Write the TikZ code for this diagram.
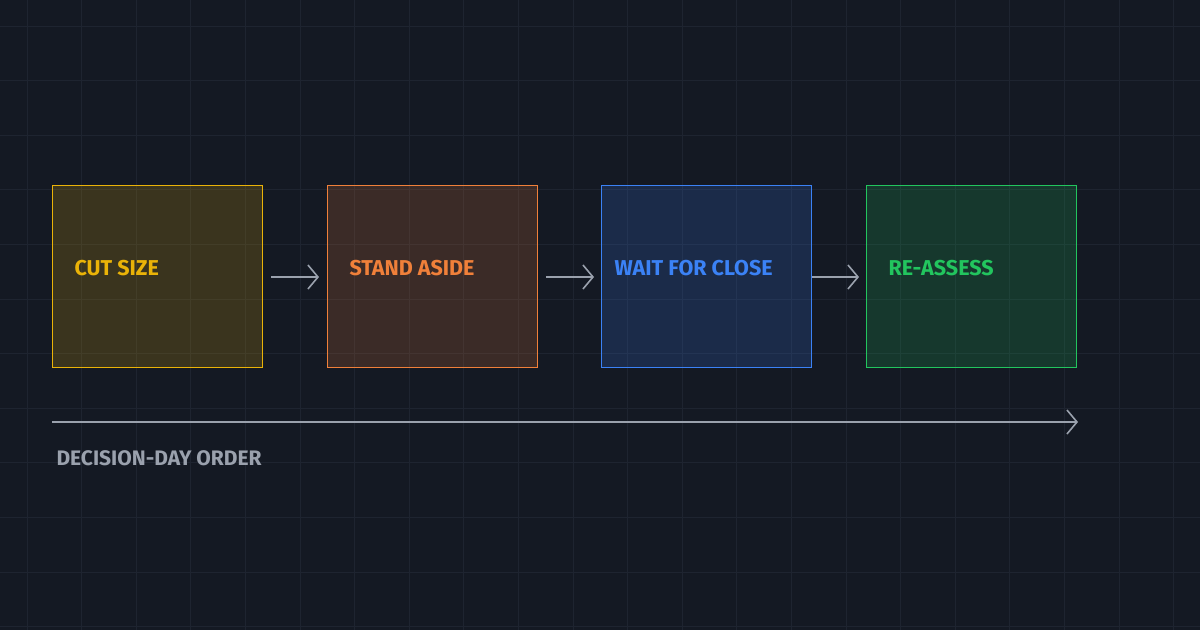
\documentclass[tikz,border=0pt]{standalone}
\usepackage{fontspec}
\setmainfont{Fira Sans}
\usetikzlibrary{arrows.meta}
\definecolor{bg}{HTML}{141923}
\definecolor{gridc}{HTML}{1E2430}
\definecolor{cy}{HTML}{EAB308}
\definecolor{co}{HTML}{F0803A}
\definecolor{cb}{HTML}{3B82F6}
\definecolor{cg}{HTML}{22C55E}
\definecolor{ar}{HTML}{9AA1AD}
\begin{document}
\begin{tikzpicture}[x=1pt,y=-1pt,
  box/.style={draw=#1,fill=#1,fill opacity=0.18,draw opacity=1,line width=1.3pt,minimum width=210pt,minimum height=182pt,anchor=north west,inner sep=0},
  lbl/.style={text=#1,font=\fontsize{21.5}{24}\selectfont\bfseries,anchor=west},
  conn/.style={draw=ar,line width=1.6pt,-{Straight Barb[length=10pt,width=24pt,line width=1.6pt]}}]
\fill[bg] (0,0) rectangle (1200,630);
\useasboundingbox (0,0) rectangle (1200,630);
\foreach \i in {0,...,22} \draw[gridc,line width=0.8pt] (27+54.6*\i,0) -- (27+54.6*\i,630);
\foreach \j in {0,...,11} \draw[gridc,line width=0.8pt] (0,26+54.6*\j) -- (1200,26+54.6*\j);
\node[box=cy] (b1) at (52,185) {};
\node[box=co] (b2) at (327,185) {};
\node[box=cb] (b3) at (601,185) {};
\node[box=cg] (b4) at (866,185) {};
\node[lbl=cy] (t1) at (71,268) {CUT SIZE};
\node[lbl=co] (t2) at (346,268) {STAND ASIDE};
\node[lbl=cb] (t3) at (611,268) {WAIT FOR CLOSE};
\node[lbl=cg] (t4) at (885,268) {RE-ASSESS};
\coordinate (a1s) at (271,277); \coordinate (a1e) at (319,277);
\coordinate (a2s) at (546,277); \coordinate (a2e) at (594,277);
\coordinate (a3s) at (812,277); \coordinate (a3e) at (859,277);
\draw[conn] (a1s) -- (a1e);
\draw[conn] (a2s) -- (a2e);
\draw[conn] (a3s) -- (a3e);
\coordinate (ts) at (52,422); \coordinate (te) at (1078,422);
\draw[conn] (ts) -- (te);
\node[text=ar,font=\fontsize{21}{24}\selectfont\bfseries,anchor=west] (dl) at (53,458) {DECISION-DAY ORDER};
\end{tikzpicture}
\end{document}
